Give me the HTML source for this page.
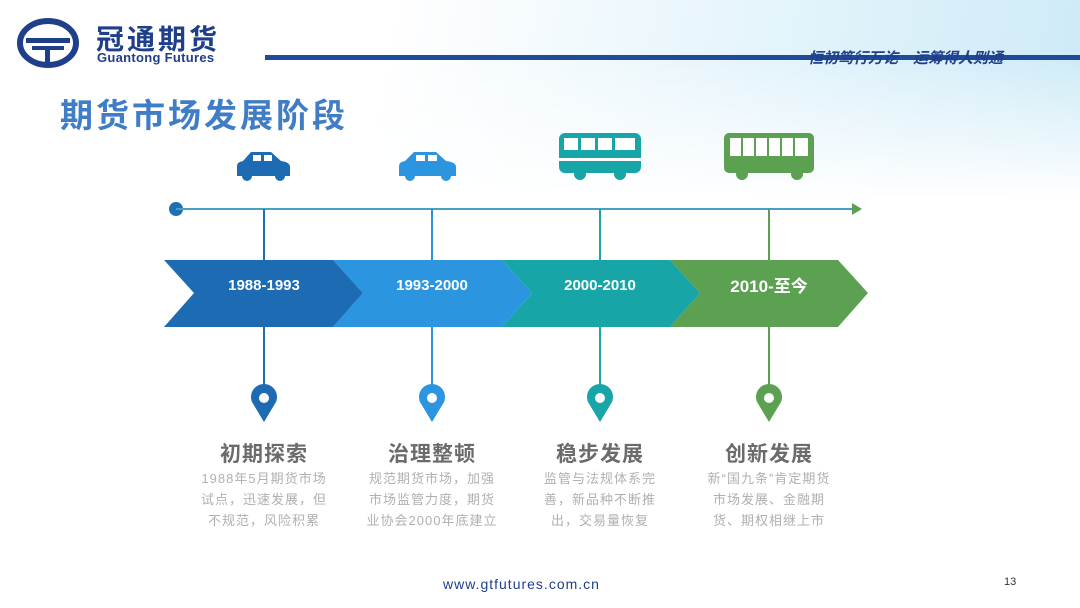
<!DOCTYPE html>
<html><head><meta charset="utf-8"><style>
body{margin:0;width:1080px;height:608px;overflow:hidden;background:#fff;font-family:"Liberation Sans","Noto Sans CJK SC",sans-serif;position:relative}
.bg{position:absolute;left:0;top:0;width:1080px;height:200px;background:linear-gradient(100deg,#fff 35%,#e4f4fb 70%,#cdeaf7 100%);-webkit-mask-image:linear-gradient(180deg,#000 30%,transparent 100%);mask-image:linear-gradient(180deg,#000 30%,transparent 100%)}
.abs{position:absolute}
.t{position:absolute;width:180px;text-align:center;font-weight:bold;font-size:21px;color:#6b6b6b;letter-spacing:1px}
.d{position:absolute;width:134px;text-align:center;font-size:13px;line-height:21px;color:#b0b0b0;letter-spacing:1px}
</style></head><body>
<div class="bg"></div>
<svg class="abs" style="left:0;top:0" width="1080" height="608">
<ellipse cx="48" cy="43" rx="28" ry="22" fill="none" stroke="#1f3f8a" stroke-width="6"/>
<rect x="26" y="38" width="44" height="5" fill="#1f3f8a"/>
<rect x="32" y="46" width="32" height="4" fill="#1f3f8a"/>
<rect x="45" y="46" width="5" height="16" fill="#1f3f8a"/>
<rect x="265" y="55" width="815" height="5" fill="#1f4c9a"/>
<circle cx="176" cy="209" r="7" fill="#1f6fb5"/>
<line x1="176" y1="209" x2="852" y2="209" stroke="#4a9fc4" stroke-width="2"/>
<polygon points="852,203 862,209 852,215" fill="#5aa04f"/>
<g stroke-width="2">
<line x1="264" y1="209" x2="264" y2="390" stroke="#1f6fb5"/>
<line x1="432" y1="209" x2="432" y2="390" stroke="#2b93e0"/>
<line x1="600" y1="209" x2="600" y2="390" stroke="#1aa6a6"/>
<line x1="769" y1="209" x2="769" y2="390" stroke="#5aa04f"/>
</g>
<polygon points="670,260 838,260 868,293 838,327 670,327 700,293" fill="#5ca152"/>
<polygon points="502,260 670,260 700,293 670,327 502,327 532,293" fill="#17a5a8"/>
<polygon points="333,260 502,260 532,293 502,327 333,327 363,293" fill="#2b95e0"/>
<polygon points="164,260 333,260 363,293 333,327 164,327 194,293" fill="#1d6cb3"/>
<g font-weight="bold" fill="#fff" text-anchor="middle" font-size="15">
<text x="264" y="290">1988-1993</text>
<text x="432" y="290">1993-2000</text>
<text x="600" y="290">2000-2010</text>
<text x="769" y="292" font-size="17">2010-至今</text>
</g>
<g fill="#1d6cb3"><path d="M237,176 v-10 q0,-4 6,-5 l8,-9 h20 l10,9 q9,1 9,6 v9z"/><circle cx="247" cy="176" r="5"/><circle cx="280" cy="176" r="5"/></g>
<g fill="#fff"><rect x="253" y="155" width="8" height="6"/><rect x="264" y="155" width="8" height="6"/></g>
<g fill="#2b95e0"><path d="M399,176 v-10 q0,-4 6,-5 l9,-9 h22 l10,9 q10,1 10,6 v9z"/><circle cx="410" cy="176" r="5"/><circle cx="446" cy="176" r="5"/></g>
<g fill="#fff"><rect x="416" y="155" width="9" height="6"/><rect x="428" y="155" width="9" height="6"/></g>
<g fill="#17a5a8"><rect x="559" y="133" width="82" height="40" rx="6"/><circle cx="580" cy="174" r="6"/><circle cx="620" cy="174" r="6"/></g>
<g fill="#fff"><rect x="564" y="138" width="14" height="12"/><rect x="581" y="138" width="14" height="12"/><rect x="598" y="138" width="14" height="12"/><rect x="615" y="138" width="20" height="12"/><rect x="559" y="158" width="82" height="3"/></g>
<g fill="#5ca152"><rect x="724" y="133" width="90" height="40" rx="5"/><circle cx="742" cy="174" r="6"/><circle cx="797" cy="174" r="6"/></g>
<g fill="#fff"><rect x="730" y="138" width="78" height="18"/></g>
<g stroke="#5ca152" stroke-width="2"><line x1="742" y1="138" x2="742" y2="156"/><line x1="755" y1="138" x2="755" y2="156"/><line x1="768" y1="138" x2="768" y2="156"/><line x1="781" y1="138" x2="781" y2="156"/><line x1="794" y1="138" x2="794" y2="156"/></g>
<g>
<path d="M264,422 l-12,-20 a13,13 0 1 1 24,0z" fill="#1d6cb3"/><circle cx="264" cy="398" r="5" fill="#fff"/>
<path d="M432,422 l-12,-20 a13,13 0 1 1 24,0z" fill="#2b95e0"/><circle cx="432" cy="398" r="5" fill="#fff"/>
<path d="M600,422 l-12,-20 a13,13 0 1 1 24,0z" fill="#17a5a8"/><circle cx="600" cy="398" r="5" fill="#fff"/>
<path d="M769,422 l-12,-20 a13,13 0 1 1 24,0z" fill="#5ca152"/><circle cx="769" cy="398" r="5" fill="#fff"/>
</g>
</svg>
<div class="abs" style="left:96px;top:18px;font-size:28px;font-weight:bold;color:#1f3f8a;letter-spacing:3px;white-space:nowrap">冠通期货</div>
<div class="abs" style="left:97px;top:50px;font-size:13px;font-weight:bold;color:#1f3f8a;letter-spacing:0.3px">Guantong Futures</div>
<div class="abs" style="left:808px;top:47px;font-size:15px;font-style:italic;font-weight:bold;color:#1f3f8a;white-space:nowrap">恒初笃行万讫　运筹得人则通</div>
<div class="abs" style="left:60px;top:89px;font-size:33px;font-weight:bold;color:#3f7dc6;letter-spacing:3px;white-space:nowrap">期货市场发展阶段</div>
<div class="t" style="left:174px;top:438px">初期探索</div>
<div class="t" style="left:342px;top:438px">治理整顿</div>
<div class="t" style="left:510px;top:438px">稳步发展</div>
<div class="t" style="left:679px;top:438px">创新发展</div>
<div class="d" style="left:197px;top:468px">1988年5月期货市场试点，迅速发展，但不规范，风险积累</div>
<div class="d" style="left:365px;top:468px">规范期货市场，加强市场监管力度，期货业协会2000年底建立</div>
<div class="d" style="left:533px;top:468px">监管与法规体系完善，新品种不断推出，交易量恢复</div>
<div class="d" style="left:702px;top:468px">新“国九条”肯定期货市场发展、金融期货、期权相继上市</div>
<div class="abs" style="left:443px;top:576px;font-size:14px;color:#1f3f8a;letter-spacing:1px">www.gtfutures.com.cn</div>
<div class="abs" style="left:1004px;top:576px;font-size:11px;color:#333">13</div>
</body></html>
